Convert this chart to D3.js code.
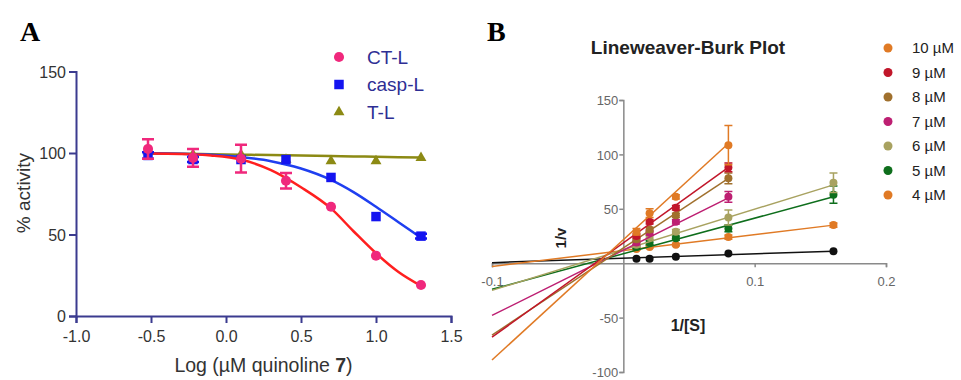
<!DOCTYPE html>
<meta charset="utf-8">
<title>Proteasome inhibition</title>
<style>
  body { margin: 0; background: #fff; }
  svg { font-family: "Liberation Sans", Arial, sans-serif; }
  .panel-letter { font-family: "Liberation Serif", serif; font-weight: bold; font-size: 28px; }
</style>
<body>
<script src="https://cdn.jsdelivr.net/npm/d3@7"></script>
<script>

// ---- panel A data: % activity vs log concentration
var logConc = [-0.52, -0.22, 0.1, 0.4, 0.7, 1.0, 1.3];
var ctl = [102.5, 97, 96.5, 83, 67, 37, 19];
var ctlErr = [6, 5.5, 8.5, 4.8, 1, 1, 1];
var caspl = [98.5, 96, 96, 96, 85, 61, 49];
var casplErr = [2, 1.5, 1, 1, 1, 1, 1.5];
var tl = [101, 99, 99, 96, 95, 95, 97];
var tlErr = [1, 1, 1, 1, 1, 1, 1];

// fitted curves
var fitX = [-0.52, -0.3, -0.1, 0.1, 0.3, 0.5, 0.7, 0.85, 1.0, 1.15, 1.3];
var ctlFit = [99.7, 99.4, 98.5, 96, 89.5, 79, 66, 52, 38.5, 27, 18.5];
var casplFit = [99.8, 99.5, 99, 97.5, 95, 90.5, 83.5, 76, 67, 57.5, 48];
var tlFit = [99.8, 99.6, 99.3, 99, 98.7, 98.5, 98.2, 97.9, 97.7, 97.4, 97.2];

var xTicksA = [-1.0, -0.5, 0.0, 0.5, 1.0, 1.5];
var yTicksA = [0, 50, 100, 150];

// ---- panel B data: Lineweaver-Burk
var invS = [0.01, 0.02, 0.04, 0.08, 0.16];
var lbLabels = ["10 \u00b5M", "9 \u00b5M", "8 \u00b5M", "7 \u00b5M", "6 \u00b5M", "5 \u00b5M", "4 \u00b5M", "0 \u00b5M"];
var lbColors = ["#e07a25", "#c1162a", "#a0702d", "#bd1f72", "#a8a260", "#0e6e1c", "#e07a25", "#111111"];
var lbValues = [
  [29, 46, 61, 108.5],
  [25, 38, 51, 88],
  [22, 31, 44, 78],
  [19, 28, 38, 61],
  [17, 24, 29, 42, 74],
  [15, 19, 23, 32, 63],
  [13, 15, 17, 24, 35],
  [4, 4, 6, 9, 11]
];
var lbErrors = [
  [3, 4, 2, 18],
  [2, 2, 2, 4],
  [2, 2, 2, 5],
  [2, 2, 2, 5],
  [2, 2, 2, 7, 9],
  [2, 2, 2, 3, 8],
  [1, 1, 1, 2, 2],
  [0, 0, 0, 0, 0]
];
// regression lines: value at 1/[S] = -0.1 and at the last point
var lbFitStart = [-89, -68, -66, -48, -25, -24, -3, 0.5];
var lbFitEnd = [110, 88, 78, 60, 72, 61, 35, 11];

var xTicksB = [-0.1, 0.1, 0.2];
var yTicksB = [-100, -50, 50, 100, 150];

var svg = d3.select("body").append("svg")
  .attr("width", 961)
  .attr("height", 380);

// ================= panel A =================
var xA = d3.scaleLinear().domain([-1, 1.5]).range([76, 451]);
var yA = d3.scaleLinear().domain([0, 150]).range([316, 71.5]);
var axisColA = "#3b3b8f";

svg.append("text").attr("class", "panel-letter")
  .attr("x", 20).attr("y", 41).text("A");

var gxA = svg.append("g")
  .attr("transform", "translate(0," + yA(0) + ")")
  .call(d3.axisBottom(xA).tickValues(xTicksA).tickFormat(function(d) { return d.toFixed(1); })
    .tickSizeOuter(0).tickSize(7));
var gyA = svg.append("g")
  .attr("transform", "translate(" + xA(-1) + ",0)")
  .call(d3.axisLeft(yA).tickValues(yTicksA).tickFormat(function(d) { return String(d); })
    .tickSizeOuter(0).tickSize(7));
[gxA, gyA].forEach(function(g) {
  g.select(".domain").attr("stroke", axisColA).attr("stroke-width", 2);
  g.selectAll(".tick line").attr("stroke", axisColA).attr("stroke-width", 2);
  g.selectAll(".tick text").attr("fill", "#333").style("font-size", "16px")
    .style("font-family", "'Liberation Sans', Arial, sans-serif");
});
gxA.selectAll(".tick text").attr("dy", "1.0em");
gyA.selectAll(".tick text").attr("dy", "0.36em");

svg.append("text")
  .attr("transform", "translate(30,193) rotate(-90)")
  .attr("text-anchor", "middle")
  .style("font-size", "19px").attr("fill", "#333")
  .text("% activity");

var xlab = svg.append("text")
  .attr("x", xA(0.25)).attr("y", 372)
  .attr("text-anchor", "middle")
  .style("font-size", "19.5px").attr("fill", "#333");
xlab.append("tspan").text("Log (\u00b5M quinoline ");
xlab.append("tspan").style("font-weight", "bold").text("7");
xlab.append("tspan").text(")");

var lineA = d3.line()
  .x(function(d) { return xA(d[0]); })
  .y(function(d) { return yA(d[1]); })
  .curve(d3.curveMonotoneX);

var seriesA = [
  { vals: tl, err: tlErr, fit: tlFit, mark: "#8c8a14", curve: "#8c8a14", shape: d3.symbolTriangle, size: 52 },
  { vals: caspl, err: casplErr, fit: casplFit, mark: "#1414f0", curve: "#1f3ff0", shape: d3.symbolSquare, size: 90 },
  { vals: ctl, err: ctlErr, fit: ctlFit, mark: "#f0287c", curve: "#ff1f1f", shape: d3.symbolCircle, size: 80 }
];

seriesA.forEach(function(s) {
  svg.append("path")
    .attr("d", lineA(fitX.map(function(x, i) { return [x, s.fit[i]]; })))
    .attr("fill", "none").attr("stroke", s.curve).attr("stroke-width", 2.5);
});

seriesA.forEach(function(s) {
  var g = svg.append("g");
  logConc.forEach(function(x, i) {
    var cx = xA(x), e = s.err[i];
    if (e > 1.2) {
      g.append("path")
        .attr("d", "M" + cx + "," + yA(s.vals[i] - e) + "V" + yA(s.vals[i] + e) +
          "M" + (cx - 6) + "," + yA(s.vals[i] + e) + "h12" +
          "M" + (cx - 6) + "," + yA(s.vals[i] - e) + "h12")
        .attr("stroke", s.mark).attr("stroke-width", 2.5).attr("fill", "none");
    }
    g.append("path")
      .attr("d", d3.symbol().type(s.shape).size(s.size)())
      .attr("transform", "translate(" + cx + "," + yA(s.vals[i]) + ")")
      .attr("fill", s.mark);
  });
});

// legend A
var legA = [
  { label: "CT-L", mark: "#f0287c", shape: d3.symbolCircle, size: 80 },
  { label: "casp-L", mark: "#1414f0", shape: d3.symbolSquare, size: 90 },
  { label: "T-L", mark: "#8c8a14", shape: d3.symbolTriangle, size: 52 }
];
legA.forEach(function(l, i) {
  var y = 57 + i * 27.5;
  svg.append("path")
    .attr("d", d3.symbol().type(l.shape).size(l.size)())
    .attr("transform", "translate(339," + y + ")")
    .attr("fill", l.mark);
  svg.append("text")
    .attr("x", 367).attr("y", y).attr("dy", "0.36em")
    .style("font-size", "19px").attr("fill", "#2e2e94")
    .text(l.label);
});

// ================= panel B =================
var xB = d3.scaleLinear().domain([-0.1, 0.2]).range([492, 886]);
var yB = d3.scaleLinear().domain([-100, 150]).range([372, 100]);
var axisColB = "#8a8a8a";

svg.append("text").attr("class", "panel-letter")
  .attr("x", 487).attr("y", 41).text("B");

svg.append("text")
  .attr("x", 688).attr("y", 54)
  .attr("text-anchor", "middle")
  .style("font-size", "19px").style("font-weight", "bold").attr("fill", "#222")
  .text("Lineweaver-Burk Plot");

var gxB = svg.append("g")
  .attr("transform", "translate(0," + yB(0) + ")")
  .call(d3.axisBottom(xB).tickValues(xTicksB).tickFormat(function(d) { return d.toFixed(1); })
    .tickSizeOuter(0).tickSize(4));
var gyB = svg.append("g")
  .attr("transform", "translate(" + xB(0) + ",0)")
  .call(d3.axisLeft(yB).tickValues(yTicksB).tickFormat(function(d) { return String(d); })
    .tickSizeOuter(0).tickSize(4));
[gxB, gyB].forEach(function(g) {
  g.select(".domain").attr("stroke", axisColB).attr("stroke-width", 1.5);
  g.selectAll(".tick line").attr("stroke", axisColB).attr("stroke-width", 1.5);
  g.selectAll(".tick text").attr("fill", "#666").style("font-size", "13px")
    .style("font-family", "'Liberation Sans', Arial, sans-serif");
});
gxB.selectAll(".tick text").attr("dy", "1.2em");
gyB.selectAll(".tick text").attr("dy", "0.36em").attr("x", -5);

svg.append("text")
  .attr("transform", "translate(566,238) rotate(-90)")
  .attr("text-anchor", "middle")
  .style("font-size", "15px").style("font-weight", "bold").attr("fill", "#222")
  .text("1/v");
svg.append("text")
  .attr("x", 688).attr("y", 331)
  .attr("text-anchor", "middle")
  .style("font-size", "16px").style("font-weight", "bold").attr("fill", "#222")
  .text("1/[S]");

// draw from lowest (black) to top (10 uM)
for (var k = lbValues.length - 1; k >= 0; k--) {
  var vals = lbValues[k], col = lbColors[k];
  var lastX = invS[vals.length - 1];
  svg.append("line")
    .attr("x1", xB(-0.1)).attr("y1", yB(lbFitStart[k]))
    .attr("x2", xB(lastX)).attr("y2", yB(lbFitEnd[k]))
    .attr("stroke", col).attr("stroke-width", 1.5);
  vals.forEach(function(v, i) {
    var cx = xB(invS[i]), e = lbErrors[k][i];
    if (e > 0) {
      svg.append("path")
        .attr("d", "M" + cx + "," + yB(v - e) + "V" + yB(v + e) +
          "M" + (cx - 4) + "," + yB(v + e) + "h8" +
          "M" + (cx - 4) + "," + yB(v - e) + "h8")
        .attr("stroke", col).attr("stroke-width", 1.5).attr("fill", "none");
    }
    svg.append("circle")
      .attr("cx", cx).attr("cy", yB(v)).attr("r", 4)
      .attr("fill", col);
  });
}

// legend B (concentrations only)
lbLabels.slice(0, 7).forEach(function(l, i) {
  var y = 48 + i * 24.5;
  svg.append("circle").attr("cx", 888).attr("cy", y).attr("r", 4.5).attr("fill", lbColors[i]);
  svg.append("text")
    .attr("x", 912).attr("y", y).attr("dy", "0.36em")
    .style("font-size", "15px").attr("fill", "#222")
    .text(l);
});

</script>
</body>
